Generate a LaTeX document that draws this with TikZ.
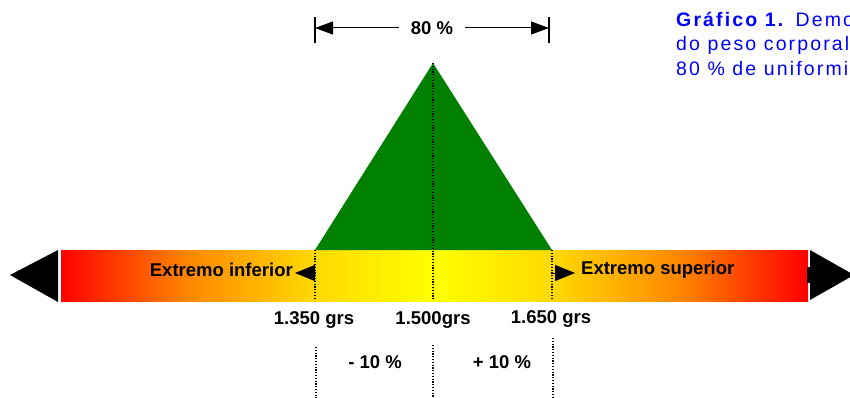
\documentclass[tikz,border=0pt]{standalone}
\usepackage{fontspec}
\setmainfont{Liberation Sans}
\newfontfamily\capfont[LetterSpace=11]{Liberation Sans}
\usetikzlibrary{positioning,arrows.meta}
\definecolor{barred}{RGB}{255,0,0}
\definecolor{barorange}{RGB}{255,135,0}
\definecolor{bargold}{RGB}{255,218,0}
\definecolor{baryellow}{RGB}{255,255,0}
\definecolor{peakgreen}{RGB}{0,128,0}
\definecolor{capblue}{RGB}{0,0,255}

\begin{document}
\begin{tikzpicture}[x=1pt,y=-1pt,
  lbl/.style={inner sep=0pt,font=\fontsize{18.5}{21}\selectfont\bfseries},
  captxt/.style={inner sep=0pt,anchor=base west,text=capblue,font=\capfont\fontsize{19.5}{21}\selectfont},
  dots/.style={line width=1.2pt,dash pattern=on 1.2pt off 1.6pt},
  bigtip/.style={line width=1pt,-{Triangle[length=18pt,width=13pt]}},
  smalltip/.style={line width=1pt,-{Triangle[length=20pt,width=16pt]}}]
\useasboundingbox (0,0) rectangle (850,398);

% the bar
\shade[left color=barred,right color=bargold,middle color=barorange] (61,250) rectangle (315,301);
\shade[left color=bargold,right color=bargold,middle color=baryellow] (315,250) rectangle (552,301);
\shade[left color=bargold,right color=barred,middle color=barorange] (552,250) rectangle (808,301);
\fill (10,275)--(58,250)--(58,302)--cycle;
\fill (807,267) rectangle (811,283);
\fill (810,250)--(854,275)--(810,300)--cycle;

% peak
\coordinate (top) at (433,63);
\coordinate (lb) at (315,250);
\coordinate (rb) at (552,250);
\fill[peakgreen] (top)--(lb)--(rb)--cycle;
\draw[dots] (top) -- (433,300);
\draw[dots] (lb) -- (315,300);
\draw[dots] (rb) -- (552,300);

% 80 %
\coordinate (dl) at (315,28);
\coordinate (dr) at (549,28);
\node[lbl,minimum width=66pt] (pct) at (432,28) {80 \%};
\draw[bigtip] (pct.west) -- (dl);
\draw[bigtip] (pct.east) -- (dr);
\draw[line width=1.2pt] ([yshift=11pt]dl) -- ([yshift=-15pt]dl);
\draw[line width=1.2pt] ([yshift=11pt]dr) -- ([yshift=-15pt]dr);

% extremes
\coordinate (lo) at (315,273);
\coordinate (hi) at (552,273);
\node[lbl,anchor=east] (inf) at (293,270) {Extremo inferior};
\node[lbl,anchor=west] (sup) at (581,270) {Extremo superior};
\draw[smalltip] (lo) -- ([xshift=2pt]lo -| inf.east);
\draw[smalltip] (hi) -- ([xshift=-6pt]hi -| sup.west);

% weights
\node[lbl] (w1) at (314,320) {1.350 grs};
\node[lbl] (w2) at (433,320) {1.500grs};
\node[lbl] (w3) at (551,319) {1.650 grs};

% deviations
\draw[dots] (316,347) -- (316,398);
\draw[dots] (433,345) -- (433,398);
\draw[dots] (553,338) -- (553,398);
\node[lbl] (m10) at (375,362) {- 10 \%};
\node[lbl] (p10) at (502,362) {+ 10 \%};

% caption
\node[captxt] (cap1) at (676,27) {\textbf{Gráfico 1.} Demonstração};
\node[captxt] (cap2) at (676,51) {do peso corporal médio};
\node[captxt] (cap3) at (676,76) {80 \% de uniformidade};
\end{tikzpicture}
\end{document}
